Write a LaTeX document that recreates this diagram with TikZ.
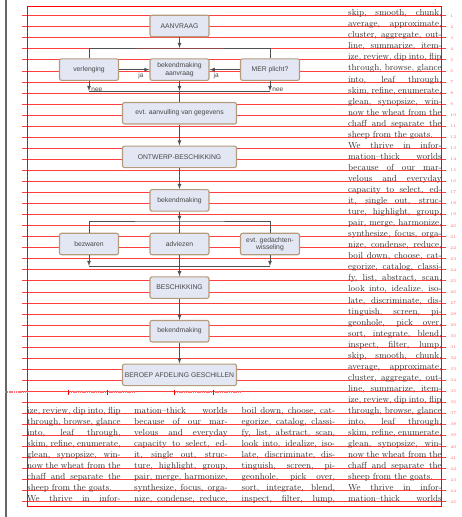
\documentclass[tikz,border=0pt]{standalone}
\usepackage{fontspec}
\usepackage{xcolor}
\usetikzlibrary{positioning}
\newfontfamily\flowfont{Liberation Sans}
\definecolor{boxfill}{HTML}{E2E7F3}
\definecolor{boxline}{HTML}{B39B7C}
\definecolor{boxtext}{HTML}{474747}
\definecolor{conline}{HTML}{505050}
\newcommand{\jline}[1]{\hbox to 93.5pt{#1}}

\begin{document}
\begin{tikzpicture}[x=1pt,y=-1pt,node distance={43.6pt},
  main/.style={draw=boxline,fill=boxfill,rounded corners=2pt,line width=1.1pt,minimum width=59pt,minimum height=21.5pt,inner sep=1pt,align=center,text=boxtext,font=\flowfont\fontsize{6.8}{7.4}\selectfont},
  wide/.style={main,minimum width=114pt},
  con/.style={draw=conline,line width=0.8pt},
  lbl/.style={text=boxtext,inner sep=1pt,font=\flowfont\fontsize{6.5}{7}\selectfont},
  gridline/.style={red,line width=0.9pt,opacity=0.75},
  lineno/.style={red!80,inner sep=0pt,font=\fontsize{4.2}{4.2}\selectfont},
  txt/.style={anchor=base west,inner sep=0pt,text=black!80,font=\fontsize{8.8}{10}\selectfont},
  vislabel/.style={red!55,line width=1.6pt,dash pattern=on 1.2pt off 0.6pt}]
\useasboundingbox (0,0) rectangle (462,517);

% page frame and grid
\draw[gray!80!black,line width=1.4pt] (6,0) -- (6,517);
\draw[red,line width=0.9pt] (27,6) rectangle (441,506);
\foreach \i in {1,...,45}
  \draw[gridline] (22,{15.7+(\i-1)*11.05}) -- (446,{15.7+(\i-1)*11.05}) node[lineno,right=4pt] (n\i) {\i};
\draw[vislabel] (5,392) -- (27,392);
\draw[vislabel] (69,392) -- (134,392);
\draw[vislabel] (175,392) -- (241,392);
\foreach \x in {68,107,174,213}
  \draw[red,line width=0.6pt] (\x,389.5) -- (\x,394.5);

% text columns
\foreach \t [count=\i] in {{skip, smooth, chunk,},{average, approximate,},{cluster, aggregate, out-},{line, summarize, item-},
  {ize, review, dip into, flip},{through, browse, glance},{into, leaf through,},{skim, refine, enumerate,},
  {glean, synopsize, win-},{now the wheat from the},{chaff and separate the},{sheep from the goats.\hfill},
  {We thrive in infor-},{mation--thick worlds},{because of our mar-},{velous and everyday},
  {capacity to select, ed-},{it, single out, struc-},{ture, highlight, group,},{pair, merge, harmonize,},
  {synthesize, focus, orga-},{nize, condense, reduce,},{boil down, choose, cat-},{egorize, catalog, classi-},
  {fy, list, abstract, scan,},{look into, idealize, iso-},{late, discriminate, dis-},{tinguish, screen, pi-},
  {geonhole, pick over,},{sort, integrate, blend,},{inspect, filter, lump,},{skip, smooth, chunk,},
  {average, approximate,},{cluster, aggregate, out-},{line, summarize, item-},{ize, review, dip into, flip},
  {through, browse, glance},{into, leaf through,},{skim, refine, enumerate,},{glean, synopsize, win-},
  {now the wheat from the},{chaff and separate the},{sheep from the goats.\hfill},{We thrive in infor-},
  {mation--thick worlds}}
  \node[txt] (d\i) at (348,{15.7+(\i-1)*11.05}) {\jline{\t}};
\foreach \t [count=\i from 37] in {{ize, review, dip into, flip},{through, browse, glance},{into, leaf through,},
  {skim, refine, enumerate,},{glean, synopsize, win-},{now the wheat from the},{chaff and separate the},
  {sheep from the goats.\hfill},{We thrive in infor-}}
  \node[txt] (a\i) at (27,{15.7+(\i-1)*11.05}) {\jline{\t}};
\foreach \t [count=\i from 37] in {{mation--thick worlds},{because of our mar-},{velous and everyday},
  {capacity to select, ed-},{it, single out, struc-},{ture, highlight, group,},{pair, merge, harmonize,},
  {synthesize, focus, orga-},{nize, condense, reduce,}}
  \node[txt] (b\i) at (134,{15.7+(\i-1)*11.05}) {\jline{\t}};
\foreach \t [count=\i from 37] in {{boil down, choose, cat-},{egorize, catalog, classi-},{fy, list, abstract, scan,},
  {look into, idealize, iso-},{late, discriminate, dis-},{tinguish, screen, pi-},{geonhole, pick over,},
  {sort, integrate, blend,},{inspect, filter, lump,}}
  \node[txt] (c\i) at (241.5,{15.7+(\i-1)*11.05}) {\jline{\t}};

% flowchart
\node[main] (aanvraag) at (179.5,26) {AANVRAAG};
\node[main] (bekaanvraag) [below of=aanvraag] {bekendmaking\\aanvraag};
\node[main,node distance=90.5pt] (verlenging) [left of=bekaanvraag] {verlenging};
\node[main,node distance=90.5pt] (mer) [right of=bekaanvraag] {MER plicht?};
\node[wide] (aanvulling) [below of=bekaanvraag] {evt. aanvulling van gegevens};
\node[wide] (ontwerp) [below of=aanvulling] {ONTWERP-BESCHIKKING};
\node[main] (bekend1) [below of=ontwerp] {bekendmaking};
\node[main] (adviezen) [below of=bekend1] {adviezen};
\node[main,node distance=90.5pt] (bezwaren) [left of=adviezen] {bezwaren};
\node[main,node distance=90.5pt] (gedachten) [right of=adviezen] {evt. gedachten-\\wisseling};
\node[main] (beschikking) [below of=adviezen] {BESCHIKKING};
\node[main] (bekend2) [below of=beschikking] {bekendmaking};
\node[wide] (beroep) [below of=bekend2] {BEROEP AFDELING GESCHILLEN};

\coordinate (split1) at (179.5,48);
\coordinate (join1) at (179.5,91);
\coordinate (split2) at (179.5,221);
\coordinate (join2) at (179.5,266);

\draw[con,-latex] (aanvraag) -- (split1);
\draw[con] (verlenging) |- (split1) -| (mer);
\draw[con,-latex] (verlenging) -- (bekaanvraag) node[lbl,pos=0.72,below=2pt] (ja1) {ja};
\draw[con,-latex] (mer) -- (bekaanvraag) node[lbl,pos=0.78,below=2pt] (ja2) {ja};
\draw[con,-latex] (verlenging) -- (verlenging |- join1) node[lbl,anchor=base west,xshift=1pt] (nee1) {nee};
\draw[con,-latex] (mer) -- (mer |- join1) node[lbl,anchor=base west,xshift=1pt] (nee2) {nee};
\draw[con] (verlenging |- join1) -- (mer |- join1);
\draw[con,-latex] (bekaanvraag) -- (join1);
\draw[con] (join1) -- (aanvulling);
\draw[con,-latex] (aanvulling) -- (ontwerp);
\draw[con,-latex] (ontwerp) -- (bekend1);
\draw[con,-latex] (bekend1) -- (split2);
\draw[con] (bezwaren) |- (split2) -| (gedachten);
\draw[con] (split2) -- (adviezen);
\draw[con,-latex] (bezwaren) -- (bezwaren |- join2);
\draw[con,-latex] (gedachten) -- (gedachten |- join2);
\draw[con] (bezwaren |- join2) -- (gedachten |- join2);
\draw[con,-latex] (adviezen) -- (beschikking);
\draw[con,-latex] (beschikking) -- (bekend2);
\draw[con,-latex] (bekend2) -- (beroep);

\end{tikzpicture}
\end{document}
